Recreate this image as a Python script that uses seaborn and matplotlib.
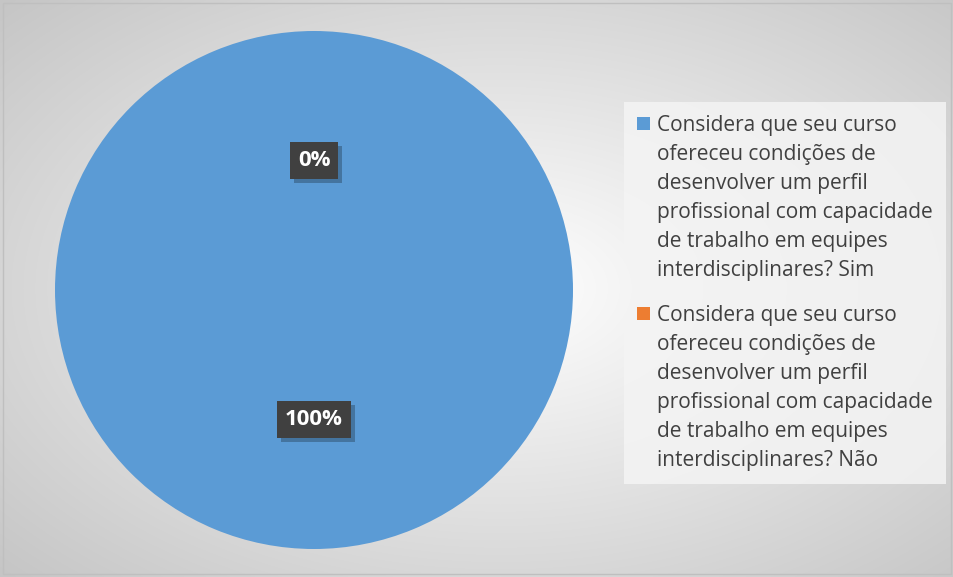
import numpy as np
import matplotlib
matplotlib.use("Agg")
import matplotlib.pyplot as plt
import matplotlib.patheffects as pe
from matplotlib.patches import Rectangle
from matplotlib.legend_handler import HandlerPatch
import seaborn as sns

# ============================================================
# Données
# ============================================================
labels = [
    "Considera que seu curso\nofereceu condições de\ndesenvolver um perfil\nprofissional com capacidade\nde trabalho em equipes\ninterdisciplinares? Sim",
    "Considera que seu curso\nofereceu condições de\ndesenvolver um perfil\nprofissional com capacidade\nde trabalho em equipes\ninterdisciplinares? Não",
]
valeurs = [100, 0]
couleurs = ["#5B9BD5", "#ED7D31"]

sns.set_theme(style="white")
plt.rcParams['font.family'] = ['Open Sans', 'DejaVu Sans']

W, H = 954, 577
fig = plt.figure(figsize=(W / 100, H / 100), dpi=100)
fig.patch.set_facecolor("white")

# ============================================================
# Fond : dégradé radial gris
# ============================================================
bg = fig.add_axes([0, 0, 1, 1], zorder=-10)
yy, xx = np.mgrid[0:H, 0:W]
d = np.sqrt(((xx - 500) / 477.0) ** 2 + ((yy - 288) / 288.0) ** 2)
val = np.clip(255 - 40 * d, 0, 255) / 255.0
img = np.dstack([val, val, val])
bg.imshow(img, extent=[0, W, H, 0], aspect="auto")
bg.add_patch(Rectangle((3, 3), W - 6, H - 6, fill=False, edgecolor="#BFBFBF", lw=1))
bg.set_xlim(0, W)
bg.set_ylim(H, 0)
bg.axis("off")

# ============================================================
# Camembert
# ============================================================
cx, cy, r = 314, 290, 259
ax = fig.add_axes([(cx - r) / W, (H - cy - r) / H, 2 * r / W, 2 * r / H])
ax.set_facecolor("none")
wedges, texts, autotexts = ax.pie(
    valeurs, colors=couleurs, startangle=90, counterclock=False,
    autopct="%1.0f%%", pctdistance=0.5, radius=1,
    wedgeprops=dict(linewidth=0),
)
ax.set_xlim(-1, 1)
ax.set_ylim(-1, 1)

for t in autotexts:
    t.set_color("white")
    t.set_fontweight("bold")
    t.set_fontsize(16)
    t.set_bbox(dict(facecolor="#404040", edgecolor="none", linewidth=0,
                    boxstyle="square,pad=0.36"))
    t.get_bbox_patch().set_path_effects([
        pe.SimplePatchShadow(offset=(3, -3), shadow_rgbFace="black", alpha=0.25),
        pe.Normal(),
    ])


# ============================================================
# Légende (carré aligné sur la première ligne)
# ============================================================
def carre_haut(legend, orig_handle, xdescent, ydescent, width, height, fontsize):
    s = 13 * 72 / 100
    return Rectangle((-xdescent, -ydescent + height - s + 21), s, s)


fs = 15
leg = fig.legend(
    wedges, labels, loc="upper left",
    bbox_to_anchor=(624 / W, 1 - 102 / H),
    fontsize=fs, frameon=True, fancybox=False,
    handlelength=13 / (fs * 100 / 72), handleheight=8.0, handletextpad=0.34,
    labelspacing=1.13, borderpad=0.64, borderaxespad=0,
    handler_map={w: HandlerPatch(patch_func=carre_haut) for w in wedges},
)
frame = leg.get_frame()
frame.set_facecolor("#F4F4F4")
frame.set_edgecolor("none")
frame.set_alpha(0.85)
for txt in leg.get_texts():
    txt.set_color("#404040")
    txt.set_linespacing(1.5)

fig.savefig("out.png", dpi=100)
